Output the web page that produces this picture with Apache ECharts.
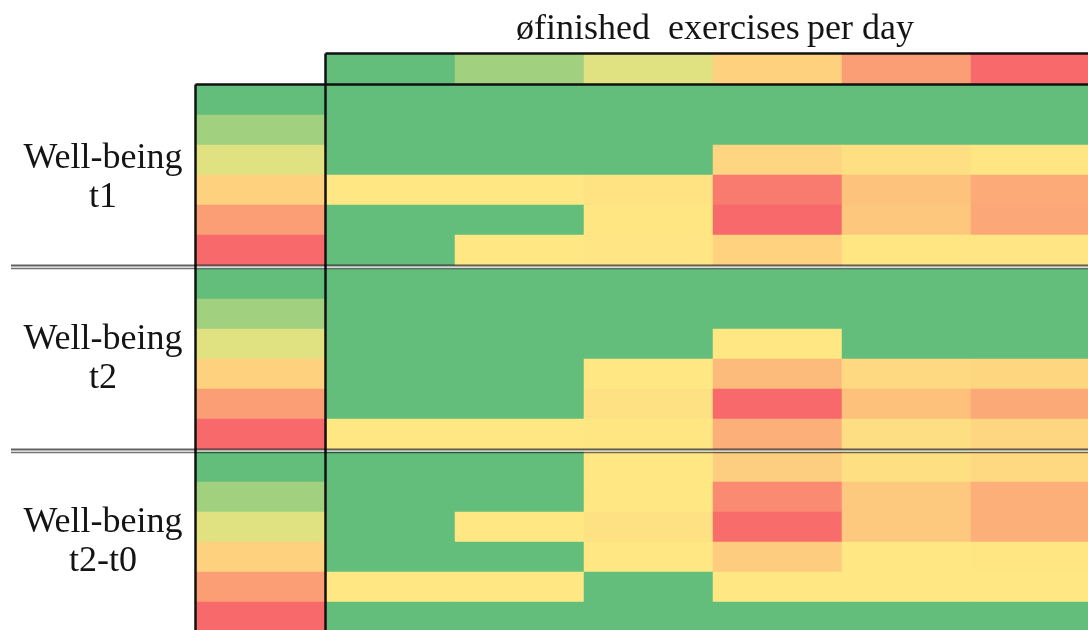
<!DOCTYPE html>
<html>
<head>
<meta charset="utf-8">
<script src="https://cdn.jsdelivr.net/npm/echarts@6/dist/echarts.min.js"></script>
<style>
  html, body { margin: 0; padding: 0; background: #ffffff; }
  #chart { width: 1088px; height: 630px; }
</style>
</head>
<body>
<div id="chart"></div>
<script>
// Columns: bins of average finished exercises per day; rows: well-being levels
const exerciseBins = ['1', '2', '3', '4', '5', '6'];
const wellbeingLevels = ['1', '2', '3', '4', '5', '6'];

// Colour level of the key strips (0 = green, 50 = yellow, 100 = red)
const exerciseKey = [0, 20, 40, 60, 80, 100];
const wellbeingKey = [0, 20, 40, 60, 80, 100];

// Cell levels, one row per well-being level, one column per exercise bin
const wellbeingT1 = [
  [0, 0, 0, 0, 0, 0],
  [0, 0, 0, 0, 0, 0],
  [0, 0, 0, 58.5, 54.5, 52],
  [51, 51, 53.5, 93.5, 65.5, 75],
  [0, 0, 52, 100, 64, 76],
  [0, 51.5, 52.5, 59.5, 52, 52.5]
];
const wellbeingT2 = [
  [0, 0, 0, 0, 0, 0],
  [0, 0, 0, 0, 0, 0],
  [0, 0, 0, 51.5, 0, 0],
  [0, 0, 51, 69, 57, 58],
  [0, 0, 54, 100, 66, 75.5],
  [51, 51, 52, 73, 55, 58.5]
];
const wellbeingT2T0 = [
  [0, 0, 51, 61, 54.5, 57],
  [0, 0, 51, 87.5, 63, 73],
  [0, 51, 54, 99, 63, 73],
  [0, 0, 51, 62, 51.5, 52],
  [51, 51, 0, 51, 51, 51],
  [0, 0, 0, 0, 0, 0]
];
const blockValues = [wellbeingT1, wellbeingT2, wellbeingT2T0];
const blockLabels = ['Well-being\nt1', 'Well-being\nt2', 'Well-being\nt2-t0'];
const axisTitle = '\u00f8finished  exercises\u2009per day';

// Layout (pixels); cell edges kept on whole pixels so neighbouring cells show no seams
const W = 1088, H = 630;
const MAIN_LEFT = 326, MAIN_WIDTH = 774;
const KEY_LEFT = 196, KEY_WIDTH = MAIN_LEFT - KEY_LEFT;
const HEADER_TOP = 54, HEADER_BOTTOM = 84;
const BLOCK_TOPS = [85, 269, 452];
const BLOCK_HEIGHT = 180;
const LABEL_CENTERS = [178, 359.5, 542.5];
const SEPARATORS = [[265.5, 268.5], [449.5, 452.5]];
const FRAME = '#111111';
const FONT = '"Liberation Serif", "Times New Roman", serif';

const grids = [], xAxes = [], yAxes = [], series = [];

function addHeatmap(rect, xCats, yCats, data) {
  const idx = grids.length;
  grids.push(Object.assign({ outerBoundsMode: 'none', containLabel: false }, rect));
  xAxes.push({ type: 'category', gridIndex: idx, data: xCats, show: false });
  yAxes.push({ type: 'category', gridIndex: idx, data: yCats, show: false, inverse: true });
  series.push({
    type: 'heatmap',
    xAxisIndex: idx,
    yAxisIndex: idx,
    data: data,
    itemStyle: { borderWidth: 0 },
    emphasis: { disabled: true },
    silent: true
  });
}

// Key strip above the columns
addHeatmap(
  { left: MAIN_LEFT, top: HEADER_TOP, width: MAIN_WIDTH, height: HEADER_BOTTOM - HEADER_TOP },
  exerciseBins, ['key'],
  exerciseKey.map((v, i) => [i, 0, v])
);

// Three blocks, each with its own well-being key strip
blockValues.forEach((rows, b) => {
  const cells = [];
  rows.forEach((row, r) => row.forEach((v, c) => cells.push([c, r, v])));
  addHeatmap(
    { left: MAIN_LEFT, top: BLOCK_TOPS[b], width: MAIN_WIDTH, height: BLOCK_HEIGHT },
    exerciseBins, wellbeingLevels, cells
  );
  addHeatmap(
    { left: KEY_LEFT, top: BLOCK_TOPS[b], width: KEY_WIDTH, height: BLOCK_HEIGHT },
    ['key'], wellbeingLevels,
    wellbeingKey.map((v, r) => [0, r, v])
  );
});

function line(x1, y1, x2, y2, stroke, lineWidth) {
  return {
    type: 'line', z: 100, silent: true,
    shape: { x1, y1, x2, y2 },
    style: { stroke, lineWidth }
  };
}

function text(str, x, y, lineHeight) {
  return {
    type: 'text', z: 100, silent: true,
    x: x, y: y,
    style: {
      text: str, fill: '#141414',
      fontSize: 36, fontFamily: FONT, lineHeight: lineHeight,
      align: 'center', verticalAlign: 'middle',
      textAlign: 'center', textVerticalAlign: 'middle'
    }
  };
}

const graphics = [
  // frame of the key strips
  line(MAIN_LEFT - 0.5, HEADER_TOP - 0.5, W, HEADER_TOP - 0.5, FRAME, 2.5),
  line(KEY_LEFT - 0.5, HEADER_BOTTOM + 0.5, W, HEADER_BOTTOM + 0.5, FRAME, 2.5),
  line(MAIN_LEFT - 0.5, HEADER_TOP - 0.5, MAIN_LEFT - 0.5, H, FRAME, 2.5),
  line(KEY_LEFT - 0.5, HEADER_BOTTOM + 0.5, KEY_LEFT - 0.5, H, FRAME, 2.5),
  // title above the columns
  text(axisTitle, 715, 29.5, 40)
];
SEPARATORS.forEach(([a, b]) => {
  graphics.push(line(11, a, W, a, 'rgba(0,0,0,0.62)', 2));
  graphics.push(line(11, b, W, b, 'rgba(0,0,0,0.55)', 1.5));
});
blockLabels.forEach((lbl, b) => {
  graphics.push(text(lbl, 103, LABEL_CENTERS[b], 39));
});

const chart = echarts.init(document.getElementById('chart'), null, { renderer: 'canvas' });
chart.setOption({
  backgroundColor: '#ffffff',
  animation: false,
  grid: grids,
  xAxis: xAxes,
  yAxis: yAxes,
  visualMap: {
    type: 'continuous',
    show: false,
    min: 0,
    max: 100,
    inRange: { color: ['#63BE7B', '#FFEB84', '#F8696B'] }
  },
  series: series,
  graphic: { elements: graphics }
});
</script>
</body>
</html>
